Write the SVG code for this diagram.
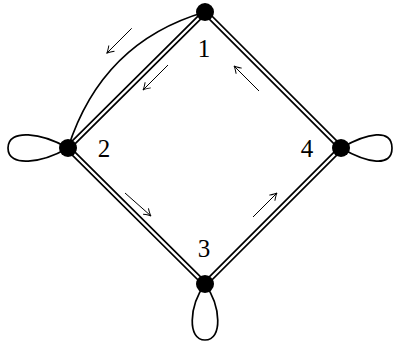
<svg xmlns="http://www.w3.org/2000/svg" width="396" height="346" viewBox="0 0 396 346">
<style>
.outer{fill:none;stroke:#000;stroke-width:5.8}
.inner{fill:none;stroke:#fff;stroke-width:2.4}
.thick{fill:none;stroke:#000;stroke-width:1.7}
.arr{fill:none;stroke:#000;stroke-width:1;marker-end:url(#ah)}
.node{fill:#000}
.lbl{font-family:"Liberation Serif",serif;font-size:25px;text-anchor:middle;fill:#000}
</style>
<defs>
<marker id="ah" viewBox="-8 -5 10 10" markerWidth="10" markerHeight="10" refX="0" refY="0" orient="auto" markerUnits="userSpaceOnUse">
<path d="M-7,-4 Q-2,-0.5 0,0 Q-2,0.5 -7,4" fill="none" stroke="#000" stroke-width="1"/>
</marker>
</defs>
<g id="connectors">
<path class="outer" d="M205,12 L68,148 L205,284 L341,148 Z"/>
<path class="inner" d="M205,12 L68,148 L205,284 L341,148 Z"/>
<path class="thick" d="M205,12 Q102,42 68,148"/>
<path class="thick" d="M68,148 C42,133 8,128 8,148 C8,168 42,163 68,148"/>
<path class="thick" d="M341,148 C367,133 392,128 392,148 C392,168 367,163 341,148"/>
<path class="thick" d="M205,284 C189,306 187,340 205,340 C223,340 221,306 205,284"/>
<line class="arr" x1="131.7" y1="28.3" x2="106.7" y2="53.3"/>
<line class="arr" x1="168" y1="65" x2="143" y2="90"/>
<line class="arr" x1="259" y1="91" x2="234" y2="66"/>
<line class="arr" x1="125" y1="193" x2="151" y2="216"/>
<line class="arr" x1="253" y1="217" x2="277" y2="193"/>
</g>
<g id="n1"><circle class="node" cx="205" cy="12" r="9"/><text class="lbl" x="204" y="57">1</text></g>
<g id="n2"><circle class="node" cx="68" cy="148" r="9"/><text class="lbl" x="104" y="157">2</text></g>
<g id="n3"><circle class="node" cx="205" cy="284" r="9"/><text class="lbl" x="204" y="257">3</text></g>
<g id="n4"><circle class="node" cx="341" cy="148" r="9"/><text class="lbl" x="307" y="157">4</text></g>
</svg>
